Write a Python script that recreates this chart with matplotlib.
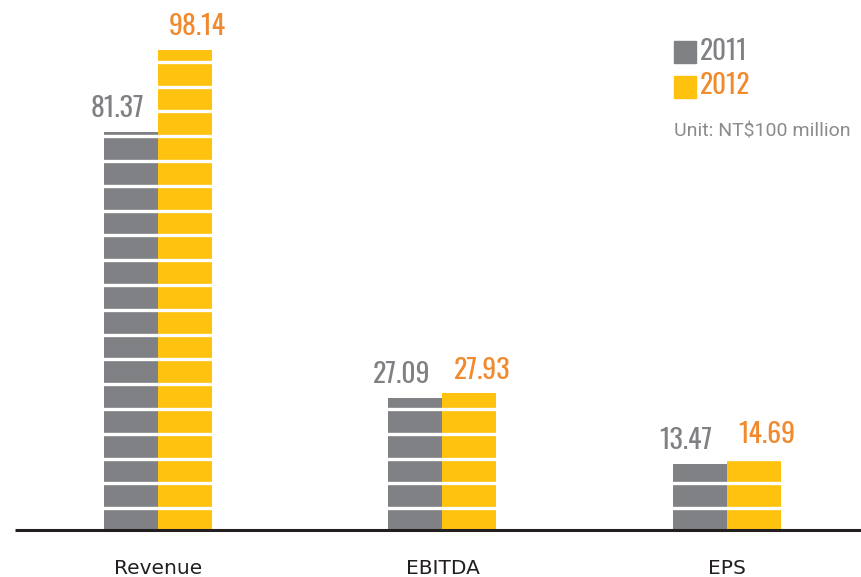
import matplotlib
matplotlib.use("Agg")
import matplotlib.pyplot as plt
import numpy as np

categories = ["Revenue", "EBITDA", "EPS"]
series_names = ["2011", "2012"]
values_2011 = [81.37, 27.09, 13.47]
values_2012 = [98.14, 27.93, 14.69]
unit_text = "Unit: NT$100 million"

bar_colors = ["#808184", "#FFC20E"]
label_colors = ["#808184", "#F1892D"]
cond_font = ["Oswald", "Antonio", "DejaVu Sans"]

W, H = 862, 577
fig = plt.figure(figsize=(W / 100, H / 100), dpi=100)
base_px = 530
px_per_unit = 4.891
group_px = 284.5
first_px = 158

ax = fig.add_axes([0, (H - base_px) / H, 1, base_px / H])
ax.set_ylim(0, base_px / px_per_unit)
ax.set_xlim(-first_px / group_px, (W - first_px) / group_px)
ax.axis("off")

x = np.arange(len(categories))
bw = 54 / group_px
for i, (vals, col, lcol) in enumerate(zip([values_2011, values_2012], bar_colors, label_colors)):
    xs = x + (i - 0.5) * bw
    ax.bar(xs, vals, width=bw, color=col, edgecolor="none", zorder=2, label=series_names[i])
    dx = -10 if i == 0 else 9
    for xi, v in zip(xs, vals):
        ax.annotate(f"{v:.2f}", (xi, v), xytext=(dx, 7), textcoords="offset points",
                    ha="center", va="bottom", fontsize=20, color=lcol, family=cond_font,
                    fontweight="normal", zorder=6)

# white horizontal stripes across bars
stripe_step = 24.8 / px_per_unit
stripe_start = 21.8 / px_per_unit
ymax = max(values_2012 + values_2011)
y = stripe_start
while y < ymax:
    ax.axhline(y, color="white", lw=2.4, zorder=3)
    y += stripe_step

# baseline
ax.plot([15 / W, 1], [0, 0], transform=ax.transAxes, color="#231F20", lw=2.2,
        clip_on=False, zorder=4, solid_capstyle="butt")

# category labels
for xi, c in zip(x, categories):
    fig.text((first_px + xi * group_px) / W, 1 - 569 / H, c, ha="center", va="center",
             fontsize=14.5, color="#231F20")

# legend
for j, (name, col, lcol) in enumerate(zip(series_names, bar_colors, label_colors)):
    y0 = 41 + j * 35
    fig.patches.append(plt.Rectangle((674 / W, 1 - (y0 + 22) / H), 22 / W, 22 / H,
                                     transform=fig.transFigure, color=col))
    fig.text(700 / W, 1 - (y0 + 10) / H, name, ha="left", va="center",
             fontsize=19.5, color=lcol, family=cond_font, fontweight="normal")

fig.text(674 / W, 1 - 131 / H, unit_text, ha="left", va="center", fontsize=14,
         color="#8A8B8D", family=["Roboto", "DejaVu Sans"], fontweight="normal")

fig.savefig("out.png", dpi=100)
